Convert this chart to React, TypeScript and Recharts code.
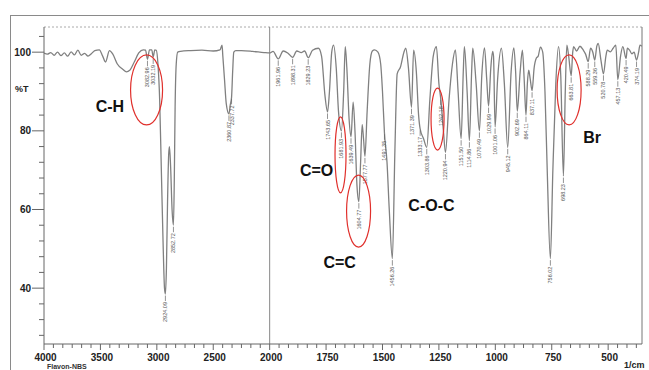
import React from 'react';
import {
  ComposedChart,
  Line,
  Scatter,
  XAxis,
  YAxis,
  ReferenceLine,
  ReferenceDot,
} from 'recharts';

// IR spectrum, wavenumber (1/cm) against %T
const highWaves = [
  4000, 3970, 3940, 3910, 3880, 3850, 3820, 3790, 3760, 3730, 3700, 3670, 3640,
  3610, 3580, 3550, 3510, 3480, 3455, 3420, 3390, 3350, 3300, 3270, 3240, 3200,
  3160, 3120, 3100, 3082.96, 3065, 3045, 3032.19, 3018, 3005, 2990, 2975, 2960,
  2945, 2932, 2924.09, 2915, 2905, 2895, 2888, 2878, 2865, 2852.72, 2845, 2838,
  2828, 2815, 2790, 2700, 2600, 2500, 2440, 2422, 2415, 2400, 2385, 2360.87,
  2350, 2337.72, 2328, 2318, 2300, 2250, 2150, 2050,
];
const highT = [
  99.8, 99.5, 99.9, 99.2, 100.0, 99.1, 99.8, 99.0, 100.1, 99.3, 100.5, 99.2, 99.7,
  99.0, 99.6, 100.4, 100.6, 99.0, 97.5, 100.4, 99.5, 97.0, 95.6, 95.0, 95.4, 97.5,
  99.8, 100.6, 100.5, 98.2, 100.6, 100.6, 98.8, 100.6, 100.5, 97, 88, 70,
  52, 40, 38.5, 45, 62, 74, 76, 71, 60, 56, 68, 86,
  97, 100, 100.2, 100.4, 100.5, 100.3, 100.6, 101.8, 99, 93, 87, 84.3,
  86.5, 88.5, 95, 100, 100.4, 100.4, 100.2, 99.9,
];

const lowWaves = [
  2000, 1985, 1961.96, 1940, 1920, 1898.31, 1880, 1860, 1845, 1829.23, 1810, 1784,
  1770, 1755, 1743.65, 1735, 1725, 1717, 1705, 1695, 1681.93, 1672, 1665, 1658,
  1648, 1639.49, 1630, 1622, 1613, 1604.77, 1597, 1590, 1584, 1577.77, 1568, 1556,
  1545, 1535, 1520, 1508, 1500, 1491.35, 1480, 1470, 1456.26, 1445, 1435, 1420,
  1405, 1397, 1385, 1371.39, 1362, 1350, 1340, 1333.17, 1318, 1303.86, 1290, 1275,
  1261, 1250, 1242.18, 1230, 1220.94, 1205, 1190, 1177, 1165, 1151.5, 1142, 1137,
  1125, 1114.86, 1105, 1100, 1085, 1070.49, 1060, 1048, 1038, 1029.99, 1020, 1012,
  1008, 1001.06, 990, 973, 960, 945.12, 930, 918, 910, 902.69, 890, 880,
  872, 864.11, 858, 852, 845, 837.11, 828, 818, 810, 800, 790, 780,
  770, 756.02, 745, 732, 720, 710, 698.23, 690, 683, 675, 663.81, 657,
  653, 640, 625, 610, 600, 588.29, 578, 568, 559.36, 550, 544, 532,
  520.78, 510, 504, 490, 478, 466, 457.13, 445, 435, 420.49, 415, 405,
  395, 385, 374.19, 365, 359, 350,
];
const lowT = [
  99.8, 100.2, 98.3, 100.3, 99.8, 98.7, 100.3, 99.9, 100.3, 98.6, 100.5, 101,
  99, 89, 84.8, 90, 100, 101.8, 96, 85, 80, 90, 101.4, 96,
  83, 78.5, 87.3, 80, 66, 62, 72, 81.6, 78, 73.5, 85, 97,
  100.3, 100.6, 100, 97, 90, 79.5, 72, 60, 47.5, 75, 94.5, 96.3,
  100, 101, 96, 86, 100.5, 95, 84, 80.5, 78, 75.8, 88, 99,
  101.4, 92, 88.3, 80, 74.5, 88, 97, 100.6, 90, 78, 95, 101.4,
  90, 77.5, 95, 101, 92, 80, 94, 101.1, 93, 86.3, 96, 100.2,
  99, 81, 93, 101, 92, 75.8, 95, 101.1, 95, 85, 95, 100.5,
  93, 84, 92, 95.4, 93, 90.2, 96, 98.5, 99, 101.3, 100, 90,
  70, 47.5, 70, 92, 101.4, 94, 68.5, 90, 101.8, 99, 94, 100,
  101.4, 100.3, 101.5, 100.5, 99.5, 97.6, 101, 100, 98, 101.6, 102.2, 98,
  94.5, 99, 100.5, 100.1, 101, 101.8, 93, 99, 101.4, 98.4, 101, 100.5,
  99.6, 100, 98, 100, 101.8, 101.5,
];

// labelled peaks printed by the instrument
const peakWaves = [
  3082.96, 3032.19, 2924.09, 2852.72, 2360.87, 2337.72, 1961.96, 1898.31, 1829.23,
  1743.65, 1681.93, 1639.49, 1604.77, 1577.77, 1491.35, 1456.26, 1371.39, 1333.17,
  1303.86, 1242.18, 1220.94, 1151.5, 1114.86, 1070.49, 1029.99, 1001.06, 945.12,
  902.69, 864.11, 837.11, 756.02, 698.23, 663.81, 588.29, 559.36, 520.78, 457.13,
  420.49, 374.19,
];

const majorTicks = [4000, 3500, 3000, 2500, 2000, 1750, 1500, 1250, 1000, 750, 500];
const yTicks = [28, 32, 36, 40, 44, 48, 52, 56, 60, 64, 68, 72, 76, 80, 84, 88, 92, 96, 100, 104];
const yLabels = [40, 60, 80, 100];

// group annotations
const groupNames = ['C-H', 'C=O', 'C=C', 'C-O-C', 'Br'];
const groupWaves = [3416, 1792, 1690, 1283, 571];
const groupT = [86.3, 69.8, 46.6, 60.9, 78.4];

// red circles round the bands
const circleWaves = [3091, 1686, 1606, 1256, 673];
const circleT = [90.4, 73.9, 59.6, 83, 90.4];
const circleRx = [16, 5.5, 12, 6.5, 12];
const circleRy = [35, 38, 36, 31, 35];

// the scan halves its scale above 2000 1/cm
const toPos = (w: number) => (w >= 2000 ? 2000 + (w - 2000) / 2 : w);
const fromPos = (p: number) => (p >= 2000 ? 2000 + (p - 2000) * 2 : p);

const spectrum = [
  ...highWaves.map((w, i) => ({ pos: toPos(w), t: highT[i] })),
  ...lowWaves.map((w, i) => ({ pos: toPos(w), t: lowT[i] })),
];

const lookupT = (w: number) => {
  const i = highWaves.indexOf(w);
  if (i >= 0) return highT[i];
  return lowT[lowWaves.indexOf(w)];
};

const peaks = peakWaves.map((w) => ({
  pos: toPos(w),
  t: lookupT(w),
  label: w.toFixed(2),
}));

const xTicks: number[] = [];
for (let p = 3000; p >= 350; p -= 250 / 6) xTicks.push(Math.round(p * 1000) / 1000);
const majorPos = majorTicks.map(toPos);
const isMajor = (p: number) => majorPos.some((m) => Math.abs(m - p) < 0.5);

const FONT = '"Liberation Sans", Arial, sans-serif';

const XTick = (props: any) => {
  const { x, y, payload } = props;
  const major = isMajor(payload.value);
  return (
    <g>
      <line x1={x} y1={y} x2={x} y2={y + (major ? 6 : 4)} stroke='#666' strokeWidth={1} />
      {major && (
        <text x={x + 1.5} y={y + 16.5} textAnchor='middle' fontSize={10} fontWeight='bold' fill='#222' fontFamily={FONT}>
          {Math.round(fromPos(payload.value))}
        </text>
      )}
    </g>
  );
};

const YTick = (props: any) => {
  const { x, y, payload } = props;
  const major = yLabels.includes(payload.value);
  return (
    <g>
      <line x1={x - (major ? 12 : 5)} y1={y} x2={x} y2={y} stroke='#666' strokeWidth={1} />
      {major && (
        <text x={x - 13} y={y + 3.5} textAnchor='end' fontSize={10} fontWeight='bold' fill='#222' fontFamily={FONT}>
          {payload.value}
        </text>
      )}
    </g>
  );
};

const PeakLabel = (props: any) => {
  const { cx, cy, payload } = props;
  return (
    <g>
      <line x1={cx} y1={cy + 1.5} x2={cx} y2={cy + 7} stroke='#666' strokeWidth={0.7} />
      <text
        transform={`translate(${cx + 2},${cy + 8}) rotate(-90)`}
        textAnchor='end'
        fontSize={5.5}
        fill='#555'
        fontFamily={FONT}
      >
        {payload.label}
      </text>
    </g>
  );
};

export default function App() {
  return (
    <div
      style={{
        position: 'absolute',
        left: 0,
        top: 0,
        width: 649,
        height: 370,
        overflow: 'hidden',
        background: '#fff',
        fontFamily: FONT,
      }}
    >
      <div
        style={{
          position: 'absolute',
          left: 10,
          top: 15,
          width: 680,
          height: 420,
          border: '1.5px solid #8a8a8a',
        }}
      />
      <ComposedChart
        width={649}
        height={370}
        data={spectrum}
        margin={{ top: 27, right: 7, bottom: 0, left: 4 }}
        style={{ position: 'absolute', left: 0, top: 0 }}
      >
        <XAxis
          type='number'
          dataKey='pos'
          domain={[350, 3000]}
          allowDataOverflow
          reversed
          ticks={xTicks}
          interval={0}
          tick={<XTick />}
          tickLine={false}
          tickSize={0}
          tickMargin={0}
          height={26}
          axisLine={{ stroke: '#666' }}
        />
        <YAxis
          type='number'
          domain={[25.8, 106.4]}
          allowDataOverflow
          ticks={yTicks}
          interval={0}
          tick={<YTick />}
          tickLine={false}
          tickSize={0}
          tickMargin={0}
          width={40}
          axisLine={{ stroke: '#666' }}
        />
        <ReferenceLine y={106.4} stroke='#aaa' strokeDasharray='2 2' />
        <ReferenceLine x={350} stroke='#777' />
        <ReferenceLine x={2000} stroke='#888' />
        <Line
          type='monotone'
          dataKey='t'
          stroke='#808080'
          strokeWidth={1.3}
          dot={false}
          activeDot={false}
          isAnimationActive={false}
        />
        <Scatter data={peaks} dataKey='t' shape={<PeakLabel />} isAnimationActive={false} />
        {circleWaves.map((w, i) => (
          <ReferenceDot
            key={'c' + i}
            x={toPos(w)}
            y={circleT[i]}
            shape={(p: any) => (
              <ellipse cx={p.cx} cy={p.cy} rx={circleRx[i]} ry={circleRy[i]} fill='none' stroke='#e0302c' strokeWidth={1.2} />
            )}
          />
        ))}
        {groupNames.map((name, i) => (
          <ReferenceDot
            key={'g' + i}
            x={toPos(groupWaves[i])}
            y={groupT[i]}
            shape={(p: any) => (
              <text x={p.cx} y={p.cy + 5.5} textAnchor='middle' fontSize={16} fontWeight='bold' fill='#111' fontFamily={FONT}>
                {name}
              </text>
            )}
          />
        ))}
      </ComposedChart>
      <div style={{ position: 'absolute', left: 15, top: 84, fontSize: 9, fontWeight: 'bold', color: '#222' }}>%T</div>
      <div style={{ position: 'absolute', left: 624, top: 360, fontSize: 9, lineHeight: '10px', fontWeight: 'bold', color: '#222' }}>1/cm</div>
      <div style={{ position: 'absolute', left: 47, top: 363, fontSize: 7, lineHeight: '7px', fontWeight: 'bold', color: '#333' }}>Flavon-NBS</div>
    </div>
  );
}
